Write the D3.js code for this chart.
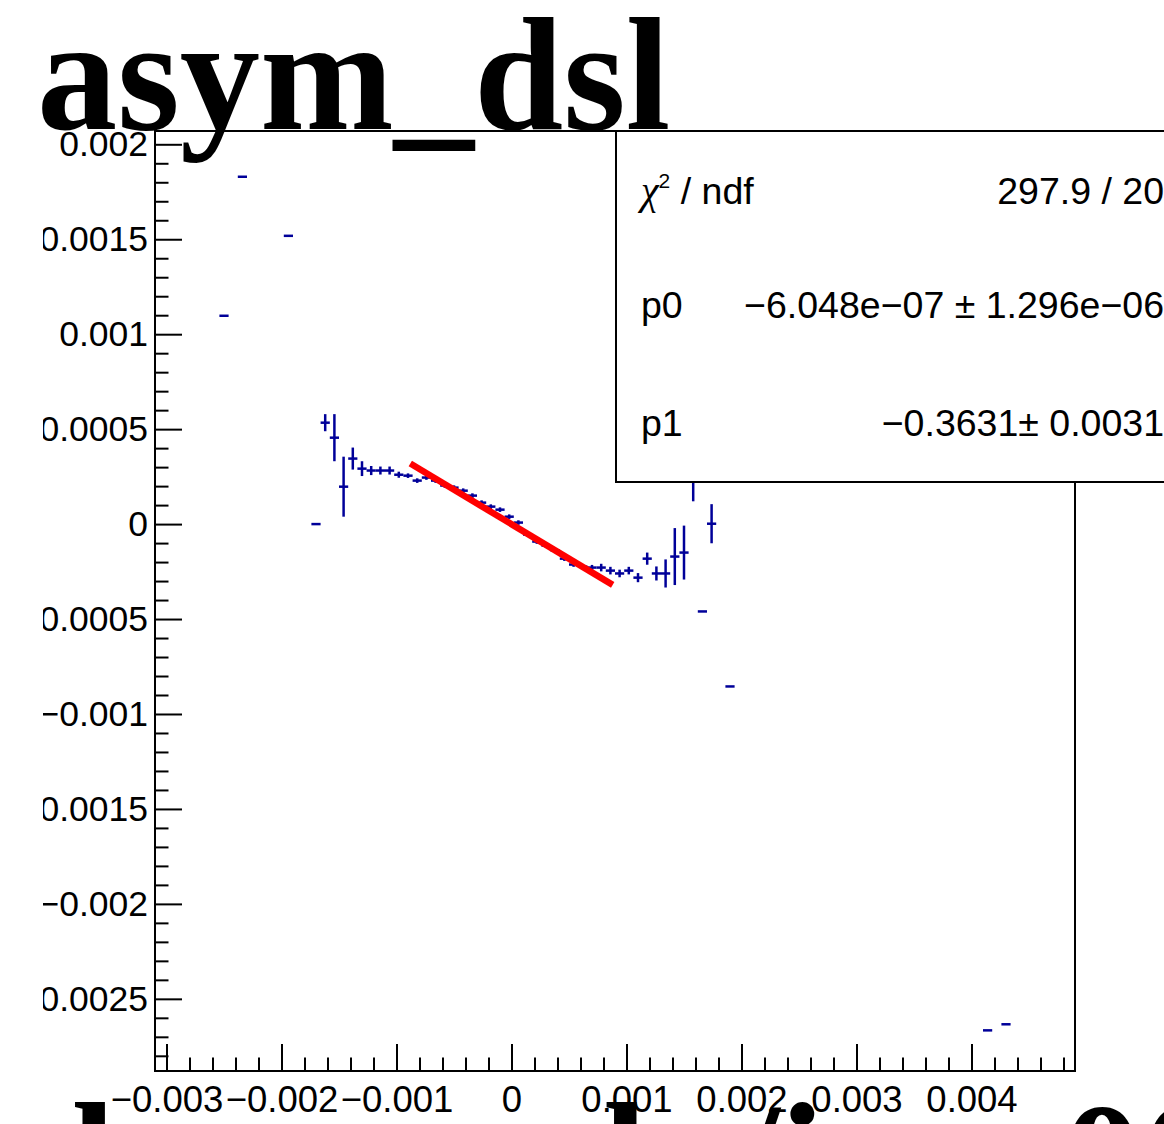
<!DOCTYPE html>
<html>
<head>
<meta charset="utf-8">
<script src="https://cdn.jsdelivr.net/npm/d3@7"></script>
<style>
  body { margin: 0; background: #fff; }
  svg { display: block; }
</style>
</head>
<body>
<div id="container"></div>
<script>
/* CONSTANTS AND GLOBALS */
const width = 1164,
      height = 1124,
      margin = {top: 131, bottom: 53, left: 155, right: 89};

/* DATA */
// bin centres of the filled bins
const binCenters = [
  -0.0025, -0.00234, -0.00194, -0.0017, -0.00162, -0.00154, -0.00146, -0.00138,
  -0.0013, -0.00122, -0.00114, -0.00106, -0.00098, -0.0009, -0.00082, -0.00074,
  -0.00066, -0.00058, -0.0005, -0.00042, -0.00034, -0.00026, -0.00018, -0.0001,
  -0.00002, 0.00006, 0.00014, 0.00022, 0.0003, 0.00038, 0.00046, 0.00054,
  0.00062, 0.0007, 0.00078, 0.00086, 0.00094, 0.00102, 0.0011, 0.00118,
  0.00126, 0.00134, 0.00142, 0.0015, 0.00158, 0.00166, 0.00174, 0.0019,
  0.00414, 0.0043
];
const binValues = [
  0.001097, 0.001829, 0.001518, 0, 0.000534, 0.000455, 0.000197, 0.000345,
  0.000292, 0.000282, 0.000282, 0.000282, 0.00026, 0.000255, 0.000229, 0.000245,
  0.000229, 0.000203, 0.000192, 0.000176, 0.00015, 0.000113, 0.000092, 0.000076,
  0.000039, 0.000008, -0.000055, -0.000092, -0.000113, -0.000139, -0.000182, -0.000213,
  -0.000224, -0.000229, -0.000229, -0.000245, -0.00026, -0.000245, -0.000282, -0.000182,
  -0.00026, -0.00026, -0.000171, -0.00015, 0.00026, -0.00046, 0.000002, -0.000855,
  -0.002666, -0.002634
];
const binErrors = [
  0, 0, 0, 0, 0.000045, 0.000124, 0.000158, 0.000058,
  0.000039, 0.000024, 0.000021, 0.000021, 0.000016, 0.000012, 0.000012, 0.000012,
  0.000012, 0.000012, 0.000012, 0.000012, 0.000012, 0.000012, 0.000012, 0.000012,
  0.000012, 0.000012, 0.000012, 0.000012, 0.000012, 0.000012, 0.000012, 0.000012,
  0.000012, 0.000014, 0.00002, 0.00002, 0.00002, 0.00002, 0.000024, 0.000032,
  0.000037, 0.000074, 0.00015, 0.000142, 0.00014, 0, 0.000103, 0,
  0, 0
];
const binWidth = 0.00008;

// linear fit  p0 + p1*x
const fitP0 = -6.048e-7;
const fitP1 = -0.3631;
const fitRange = [-0.00088, 0.00088];

const xDomain = [-0.0031, 0.0049];
const yDomain = [-0.00288, 0.00207];

const xTicks = [-0.003, -0.002, -0.001, 0, 0.001, 0.002, 0.003, 0.004];
const xTickLabels = ["\u22120.003", "\u22120.002", "\u22120.001", "0", "0.001", "0.002", "0.003", "0.004"];
const yTicks = [0.002, 0.0015, 0.001, 0.0005, 0, -0.0005, -0.001, -0.0015, -0.002, -0.0025];
const yTickLabels = ["0.002", "0.0015", "0.001", "0.0005", "0", "\u22120.0005", "\u22120.001", "\u22120.0015", "\u22120.002", "\u22120.0025"];

const statNames = ["ndf", "p0", "p1"];
const statValues = ["297.9 / 20", "\u22126.048e\u221207 \u00b1 1.296e\u221206", "\u22120.3631\u00b1 0.0031"];

const titleText = "asym_dsl";
const xTitleText = "bcm_avln/iavg00";

const blue = "#000099";
const sansFont = "'Liberation Sans', Arial, Helvetica, sans-serif";
const serifFont = "'Liberation Serif', 'Times New Roman', serif";

/* SCALES */
const xScale = d3.scaleLinear().domain(xDomain).range([margin.left, width - margin.right]);
const yScale = d3.scaleLinear().domain(yDomain).range([height - margin.bottom, margin.top]);

const points = binCenters.map((x, i) => ({x: x, y: binValues[i], e: binErrors[i]}));

const isMajor = (v, step) => Math.abs(v / step - Math.round(v / step)) < 1e-6;
const xMinor = d3.range(-0.003, 0.00481, 0.0002).filter(v => !isMajor(v, 0.001));
const yMinor = d3.range(-0.0028, 0.00201, 0.0001).filter(v => !isMajor(v, 0.0005));

/* SVG */
const svg = d3.select("#container")
  .append("svg")
  .attr("width", width)
  .attr("height", height);

svg.append("rect").attr("width", width).attr("height", height).attr("fill", "#fff");

svg.append("defs").append("clipPath")
  .attr("id", "labelClip")
  .append("rect")
  .attr("x", 43).attr("y", 0).attr("width", width).attr("height", height);

/* AXES */
const x0 = height - margin.bottom;

function styleAxis(size) {
  return g => {
    g.select(".domain").remove();
    g.selectAll("line").attr("stroke", "#000").attr("stroke-width", 2);
    g.selectAll("text")
      .attr("fill", "#000")
      .attr("font-family", sansFont)
      .attr("font-size", size);
  };
}

svg.append("g")
  .attr("transform", `translate(0, ${x0})`)
  .call(d3.axisBottom(xScale).tickValues(xMinor).tickFormat("").tickSize(-13.5))
  .call(styleAxis(36.5));

svg.append("g")
  .attr("transform", `translate(0, ${x0})`)
  .call(d3.axisBottom(xScale).tickValues(xTicks)
    .tickFormat((d, i) => xTickLabels[i]).tickSize(-27).tickPadding(15))
  .call(styleAxis(36.5));

const yWrap = svg.append("g").attr("clip-path", "url(#labelClip)");

yWrap.append("g")
  .attr("transform", `translate(${margin.left}, 0)`)
  .call(d3.axisLeft(yScale).tickValues(yMinor).tickFormat("").tickSize(-13.5))
  .call(styleAxis(35.5));

yWrap.append("g")
  .attr("transform", `translate(${margin.left}, 0)`)
  .call(d3.axisLeft(yScale).tickValues(yTicks)
    .tickFormat((d, i) => yTickLabels[i]).tickSize(-27).tickPadding(7))
  .call(styleAxis(35.5));

// frame
svg.append("rect")
  .attr("x", margin.left)
  .attr("y", margin.top)
  .attr("width", width - margin.left - margin.right)
  .attr("height", height - margin.top - margin.bottom)
  .attr("fill", "none")
  .attr("stroke", "#000")
  .attr("stroke-width", 2);

/* DATA POINTS */
const marks = svg.append("g")
  .attr("stroke", blue)
  .attr("stroke-width", 2.5);

marks.selectAll("line.hbar")
  .data(points)
  .join("line")
  .attr("class", "hbar")
  .attr("x1", d => xScale(d.x - binWidth / 2))
  .attr("x2", d => xScale(d.x + binWidth / 2))
  .attr("y1", d => yScale(d.y))
  .attr("y2", d => yScale(d.y));

marks.selectAll("line.vbar")
  .data(points.filter(d => d.e > 0))
  .join("line")
  .attr("class", "vbar")
  .attr("x1", d => xScale(d.x))
  .attr("x2", d => xScale(d.x))
  .attr("y1", d => yScale(d.y - d.e))
  .attr("y2", d => yScale(d.y + d.e));

/* FIT */
const fitLine = d3.line()
  .x(d => xScale(d))
  .y(d => yScale(fitP0 + fitP1 * d));

svg.append("path")
  .datum(fitRange)
  .attr("d", fitLine)
  .attr("fill", "none")
  .attr("stroke", "#ff0000")
  .attr("stroke-width", 6.5);

/* STATS BOX */
const box = svg.append("g");
box.append("rect")
  .attr("x", 616).attr("y", 131)
  .attr("width", 600).attr("height", 351)
  .attr("fill", "#fff")
  .attr("stroke", "#000")
  .attr("stroke-width", 2);

const rowBase = [204, 318, 436];
statNames.forEach((name, i) => {
  const t = box.append("text")
    .attr("x", 641).attr("y", rowBase[i])
    .attr("font-family", sansFont)
    .attr("font-size", 37.5)
    .attr("fill", "#000");
  if (i === 0) {
    t.append("tspan")
      .attr("font-family", serifFont)
      .attr("font-style", "italic")
      .attr("font-size", 40)
      .text("\u03c7");
    t.append("tspan").attr("dy", -16).attr("font-size", 21).text("2");
    t.append("tspan").attr("dy", 16).text(" / " + name);
  } else {
    t.text(name);
  }
  box.append("text")
    .attr("x", 1164).attr("y", rowBase[i])
    .attr("text-anchor", "end")
    .attr("font-family", sansFont)
    .attr("font-size", 37.5)
    .attr("fill", "#000")
    .text(statValues[i]);
});

/* TITLES */
svg.append("text")
  .attr("x", 37).attr("y", 129)
  .attr("font-family", serifFont)
  .attr("font-weight", "bold")
  .attr("font-size", 160.5)
  .attr("fill", "#000")
  .text(titleText);

svg.append("text")
  .attr("x", 73).attr("y", 1212)
  .attr("font-family", serifFont)
  .attr("font-weight", "bold")
  .attr("font-size", 159)
  .attr("fill", "#000")
  .text(xTitleText);
</script>
</body>
</html>
